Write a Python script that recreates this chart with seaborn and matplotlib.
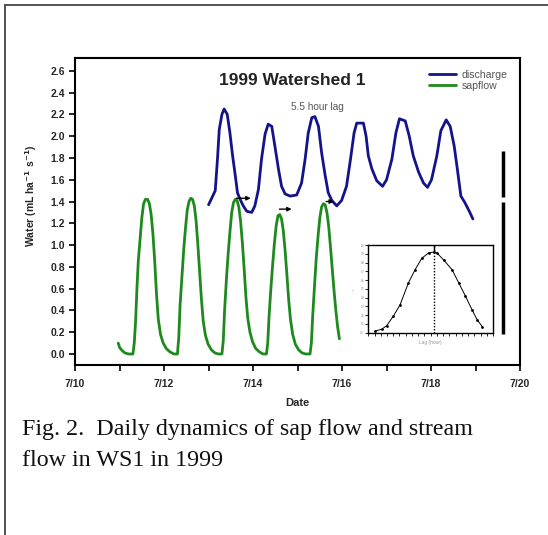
import matplotlib
matplotlib.use("Agg")
import matplotlib.pyplot as plt
import seaborn as sns
import pandas as pd
import numpy as np
from matplotlib.lines import Line2D

# ---------------- data ----------------
sap_day = [10.97, 11.00, 11.06, 11.12, 11.20, 11.30, 11.33, 11.36, 11.39, 11.42, 11.46, 11.50, 11.54, 11.58,
           11.63, 11.67, 11.71, 11.75, 11.79, 11.83, 11.87, 11.92, 11.98, 12.05, 12.13, 12.22, 12.30,
           12.33, 12.36, 12.40, 12.44, 12.48, 12.52, 12.56, 12.60, 12.64, 12.68, 12.72, 12.76, 12.80,
           12.84, 12.88, 12.93, 12.99, 13.06, 13.14, 13.22, 13.30,
           13.33, 13.36, 13.40, 13.44, 13.48, 13.52, 13.56, 13.60, 13.64, 13.68, 13.72, 13.76, 13.80,
           13.84, 13.88, 13.93, 13.99, 14.06, 14.14, 14.22, 14.30,
           14.33, 14.36, 14.40, 14.44, 14.48, 14.52, 14.56, 14.60, 14.64, 14.68, 14.72, 14.76, 14.80,
           14.84, 14.89, 14.95, 15.02, 15.10, 15.18, 15.28,
           15.31, 15.34, 15.38, 15.42, 15.46, 15.50, 15.54, 15.58, 15.62, 15.66, 15.70, 15.74, 15.78,
           15.82, 15.86, 15.90, 15.94]
sap_val = [0.10, 0.06, 0.03, 0.01, 0.00, 0.00, 0.10, 0.30, 0.60, 0.85, 1.05, 1.25, 1.38, 1.42,
           1.42, 1.38, 1.28, 1.10, 0.85, 0.55, 0.32, 0.18, 0.10, 0.05, 0.02, 0.00, 0.00,
           0.15, 0.45, 0.70, 0.95, 1.15, 1.32, 1.40, 1.43, 1.42, 1.36, 1.22, 1.00, 0.75,
           0.50, 0.30, 0.17, 0.09, 0.04, 0.01, 0.00, 0.00,
           0.12, 0.40, 0.68, 0.92, 1.12, 1.30, 1.39, 1.42, 1.41, 1.35, 1.22, 1.02, 0.78,
           0.52, 0.33, 0.20, 0.11, 0.05, 0.02, 0.00, 0.00,
           0.10, 0.35, 0.60, 0.82, 1.02, 1.18, 1.27, 1.28, 1.24, 1.13, 0.95, 0.73, 0.50,
           0.32, 0.18, 0.09, 0.04, 0.01, 0.00, 0.00,
           0.10, 0.35, 0.62, 0.88, 1.08, 1.25, 1.35, 1.38, 1.37, 1.30, 1.17, 0.98, 0.78,
           0.58, 0.40, 0.25, 0.14]

dis_day = [13.00, 13.15, 13.20, 13.24, 13.30, 13.35, 13.42, 13.48, 13.54, 13.60, 13.65, 13.71, 13.78,
           13.86, 13.97, 14.04, 14.12, 14.19, 14.27, 14.34, 14.42, 14.49, 14.57, 14.64, 14.72, 14.83,
           14.98, 15.09, 15.17, 15.24, 15.32, 15.39, 15.47, 15.54, 15.62, 15.69, 15.77, 15.88, 15.99,
           16.10, 16.19, 16.27, 16.33, 16.48, 16.54, 16.59, 16.67, 16.78, 16.91, 17.00, 17.12, 17.21,
           17.29, 17.42, 17.51, 17.60, 17.72, 17.83, 17.92, 18.01, 18.13, 18.22, 18.34, 18.43, 18.52,
           18.59, 18.67, 18.76, 18.86, 18.94]
dis_val = [1.37, 1.50, 1.79, 2.06, 2.20, 2.25, 2.20, 2.03, 1.82, 1.64, 1.48, 1.42, 1.36,
           1.31, 1.30, 1.36, 1.51, 1.79, 2.02, 2.11, 2.09, 1.91, 1.70, 1.54, 1.47, 1.45,
           1.46, 1.57, 1.79, 2.03, 2.17, 2.18, 2.09, 1.85, 1.64, 1.48, 1.41, 1.36, 1.41,
           1.54, 1.79, 2.03, 2.12, 2.12, 2.00, 1.82, 1.70, 1.59, 1.54, 1.60, 1.79, 2.03,
           2.16, 2.14, 2.00, 1.82, 1.67, 1.57, 1.53, 1.60, 1.82, 2.05, 2.15, 2.09, 1.91,
           1.70, 1.45, 1.39, 1.31, 1.24]

x_ticks = [10, 12, 14, 16, 18, 20]
x_tick_labels = ["7/10", "7/12", "7/14", "7/16", "7/18", "7/20"]
y_ticks = [0.0, 0.2, 0.4, 0.6, 0.8, 1.0, 1.2, 1.4, 1.6, 1.8, 2.0, 2.2, 2.4, 2.6]

# inset: cross-correlation curve
cc_lag = [5.4, 10.7, 14.7, 20.1, 25.5, 32.2, 37.5, 42.9, 48.3, 52.3, 55.0, 60.3, 67.0, 72.4, 77.7, 83.1, 87.1, 91.2]
cc_r = [0.02, 0.04, 0.08, 0.19, 0.32, 0.57, 0.72, 0.85, 0.91, 0.92, 0.91, 0.83, 0.72, 0.57, 0.42, 0.26, 0.15, 0.07]
cc_peak_lag = 52.3

# ---------------- style ----------------
sns.set_theme(style="ticks")
plt.rcParams['font.family'] = ['Liberation Sans', 'DejaVu Sans']
plt.rcParams['mathtext.default'] = 'bf'

BLUE = "#13138c"
GREEN = "#1e8a1e"

fig = plt.figure(figsize=(5.48, 5.35), dpi=100)
ax = fig.add_axes([0.137, 0.318, 0.812, 0.574])

df_sap = pd.DataFrame({"day": sap_day, "val": sap_val})
df_dis = pd.DataFrame({"day": dis_day, "val": dis_val})
sns.lineplot(data=df_dis, x="day", y="val", ax=ax, color=BLUE, lw=2.0, label="discharge", sort=False)
sns.lineplot(data=df_sap, x="day", y="val", ax=ax, color=GREEN, lw=2.0, label="sapflow", sort=False)

ax.set_xlim(10, 20)
ax.set_ylim(-0.1, 2.72)
ax.set_xticks(x_ticks)
ax.set_xticklabels(x_tick_labels)
ax.set_xticks([11, 13, 15, 17, 19], minor=True)
ax.set_yticks(y_ticks)
ax.set_yticklabels([f"{v:.1f}" for v in y_ticks])
for lab in ax.get_xticklabels() + ax.get_yticklabels():
    lab.set_fontweight("bold")
    lab.set_fontsize(7.5)
ax.tick_params(axis="y", which="major", direction="out", length=4, width=1.2, color="black", pad=3)
ax.tick_params(axis="x", which="major", direction="out", length=4, width=1.2, color="black", pad=6)
ax.tick_params(axis="x", which="minor", direction="out", length=4, width=1.2, color="black")
for s in ax.spines.values():
    s.set_visible(True)
    s.set_linewidth(1.5)
    s.set_color("black")

ax.set_xlabel("Date", fontsize=8, fontweight="bold", labelpad=7)
ax.set_ylabel("Water (mL ha$^{-1}$ s$^{-1}$)", fontsize=7.5, fontweight="bold")
ax.yaxis.set_label_coords(-0.082, 0.55)

ax.text(0.488, 0.925, "1999 Watershed 1", transform=ax.transAxes, ha="center", va="center",
        fontsize=12.5, fontweight="bold", color="#222222")
ax.text(0.544, 0.841, "5.5 hour lag", transform=ax.transAxes, ha="center", va="center",
        fontsize=7.2, color="#555555")

leg = ax.legend(loc="upper left", bbox_to_anchor=(0.785, 0.975), frameon=False, fontsize=7.6,
                handlelength=2.6, handletextpad=0.55, labelspacing=0.08, borderaxespad=0)
for t in leg.get_texts():
    t.set_color("#555555")

# lag arrows
for (x0, x1, yv) in [(13.56, 14.01, 1.43), (14.53, 14.93, 1.33), (15.58, 15.88, 1.40)]:
    ax.annotate("", xy=(x1, yv), xytext=(x0, yv),
                arrowprops=dict(arrowstyle="-|>", color="black", lw=1.0, mutation_scale=6))

# vertical black bar
ax.vlines(19.62, 0.18, 1.40, color="black", lw=2.5)
ax.vlines(19.62, 1.44, 1.86, color="black", lw=2.5)

# ---------------- inset ----------------
ins = fig.add_axes([0.672, 0.378, 0.228, 0.164])
df_cc = pd.DataFrame({"lag": cc_lag, "r": cc_r})
sns.lineplot(data=df_cc, x="lag", y="r", ax=ins, color="black", lw=0.7, marker="o", markersize=2,
             markeredgewidth=0, sort=False)
ins.plot([cc_peak_lag, cc_peak_lag], [0, 1], color="black", lw=1.0, ls=(0, (1, 1.2)))
ins.plot([cc_peak_lag, cc_peak_lag], [0.92, 1], color="black", lw=1.0)
ins.set_xlim(0, 100)
ins.set_ylim(0, 1)
ins.set_xticks(np.arange(5, 100, 10))
ins.set_xticks(np.arange(0, 101, 5), minor=True)
ins.set_xticklabels(["" if i % 2 else str(i) for i in range(5, 100, 10)])
ins.set_yticks(np.arange(0, 1.01, 0.1))
ins.set_yticklabels([f"{v:.1f}" for v in np.arange(0, 1.01, 0.1)])
ins.tick_params(axis="both", which="both", direction="out", length=2, width=0.6, labelsize=1.8,
                pad=1, colors="#777777")
ins.tick_params(axis="both", which="both", color="black")
ins.set_xlabel("Lag (hour)", fontsize=3.5, color="#999999", labelpad=2)
ins.set_ylabel("r", fontsize=3, color="#999999", labelpad=3)
for s in ins.spines.values():
    s.set_visible(True)
    s.set_linewidth(1.0)
    s.set_color("black")

# ---------------- caption and outer frame ----------------
fig.text(22 / 548, 1 - 430 / 535, "Fig. 2.  Daily dynamics of sap flow and stream",
         family=["Liberation Serif", "DejaVu Serif"], fontsize=17.3, ha="left", va="center", color="#111111")
fig.text(22 / 548, 1 - 461 / 535, "flow in WS1 in 1999",
         family=["Liberation Serif", "DejaVu Serif"], fontsize=17.3, ha="left", va="center", color="#111111")

fig.add_artist(Line2D([5 / 548, 5 / 548], [0, 1 - 5 / 535], transform=fig.transFigure,
                      color="#444444", lw=1.3))
fig.add_artist(Line2D([5 / 548, 1], [1 - 5 / 535, 1 - 5 / 535], transform=fig.transFigure,
                      color="#444444", lw=1.3))

fig.savefig("out.png", dpi=100)
